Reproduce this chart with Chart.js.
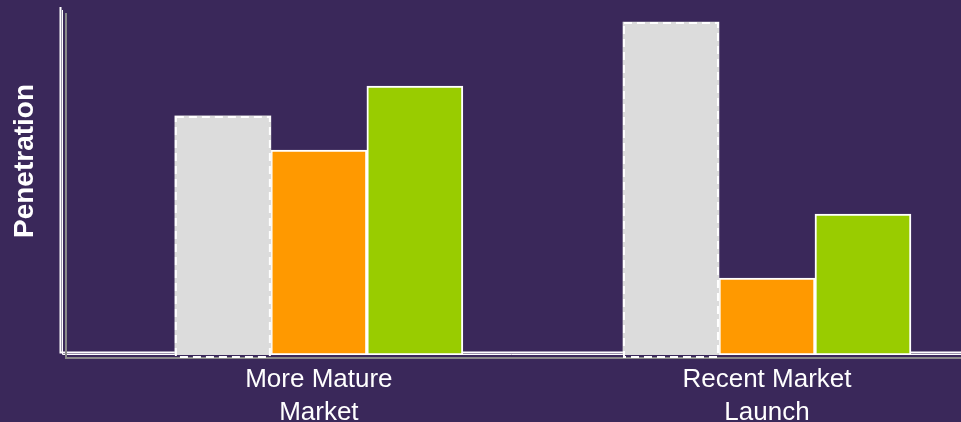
<!DOCTYPE html>
<html>
<head>
<meta charset="utf-8">
<script src="https://cdn.jsdelivr.net/npm/chart.js@4"></script>
<style>
  html, body { margin: 0; padding: 0; background: #3a285a; overflow: hidden; }
  canvas { display: block; }
</style>
</head>
<body>
<canvas id="penetrationChart" width="961" height="422"></canvas>
<script>
const categories = [["More Mature", "Market"], ["Recent Market", "Launch"]];
const seriesNames = ["Category", "Brand A", "Brand B"];
const categoryValues = [68.7, 95.7];
const brandAValues = [58.9, 22.1];
const brandBValues = [77.3, 40.5];
const yTitle = "Penetration";

// x positions of the two groups (linear scale so groups can sit off-centre)
const xMin = -0.571, xMax = 1.433;

function toPoints(values) {
    return values.map((v, i) => ({ x: i, y: v }));
}

// three offset lines for each axis, like the original's shadowed axis
const axisLines = {
    id: "axisLines",
    beforeDatasetsDraw(chart) {
        const { ctx, chartArea: a } = chart;
        const right = chart.width;
        const lines = [
            { off: -2.5, w: 2, color: "#ffffff", start: 0 },
            { off: -0.5, w: 1, color: "#ffffff", start: 3 },
            { off: 3, w: 2, color: "#8a8a8a", start: 6 }
        ];
        ctx.save();
        lines.forEach(l => {
            ctx.strokeStyle = l.color;
            ctx.lineWidth = l.w;
            ctx.beginPath();
            ctx.moveTo(a.left + l.off, a.top + l.start);
            ctx.lineTo(a.left + l.off, a.bottom + l.off);
            ctx.lineTo(right, a.bottom + l.off);
            ctx.stroke();
        });
        ctx.restore();
    }
};

// dashed outline on the first series (Chart.js bars have no borderDash)
const dashedBars = {
    id: "dashedBars",
    afterDatasetsDraw(chart) {
        const ctx = chart.ctx;
        const meta = chart.getDatasetMeta(0);
        ctx.save();
        ctx.strokeStyle = "#ffffff";
        ctx.lineWidth = 2;
        ctx.setLineDash([8, 5]);
        meta.data.forEach(bar => {
            const left = bar.x - bar.width / 2;
            ctx.strokeRect(left + 1, bar.y + 1, bar.width - 2, bar.base - bar.y + 1);
        });
        ctx.restore();
    }
};

const yTitlePlugin = {
    id: "yTitle",
    afterDraw(chart) {
        const ctx = chart.ctx;
        ctx.save();
        ctx.translate(33, 161);
        ctx.rotate(-Math.PI / 2);
        ctx.fillStyle = "#ffffff";
        ctx.font = "bold 28px 'Liberation Sans'";
        ctx.textAlign = "center";
        ctx.textBaseline = "alphabetic";
        ctx.fillText(yTitle, 0, 0);
        ctx.restore();
    }
};

const ctx = document.getElementById("penetrationChart").getContext("2d");

new Chart(ctx, {
    type: "bar",
    data: {
        datasets: [
            {
                label: seriesNames[0],
                data: toPoints(categoryValues),
                backgroundColor: "#dcdcdc",
                borderWidth: 0
            },
            {
                label: seriesNames[1],
                data: toPoints(brandAValues),
                backgroundColor: "#ff9900",
                borderColor: "#ffffff",
                borderWidth: 2,
                borderSkipped: false
            },
            {
                label: seriesNames[2],
                data: toPoints(brandBValues),
                backgroundColor: "#99cc00",
                borderColor: "#ffffff",
                borderWidth: 2,
                borderSkipped: false
            }
        ]
    },
    options: {
        responsive: false,
        animation: false,
        devicePixelRatio: 1,
        barThickness: 96,
        layout: { padding: { top: 7, right: 0, bottom: 0, left: 0 } },
        scales: {
            x: {
                type: "linear",
                offset: false,
                min: xMin,
                max: xMax,
                grid: { display: false, drawTicks: false, offset: false },
                border: { display: false },
                afterFit: s => { s.height = 67; },
                ticks: {
                    stepSize: 1,
                    autoSkip: false,
                    maxRotation: 0,
                    includeBounds: false,
                    padding: 8,
                    color: "#ffffff",
                    font: { family: "'Liberation Sans'", size: 26, lineHeight: 1.27 },
                    callback: v => Number.isInteger(v) && categories[v] ? categories[v] : ""
                }
            },
            y: {
                min: 0,
                max: 100,
                grid: { display: false, drawTicks: false },
                border: { display: false },
                ticks: { display: false },
                afterFit: s => { s.width = 63; }
            }
        },
        plugins: {
            legend: { display: false },
            tooltip: { enabled: false }
        }
    },
    plugins: [axisLines, dashedBars, yTitlePlugin]
});
</script>
</body>
</html>
